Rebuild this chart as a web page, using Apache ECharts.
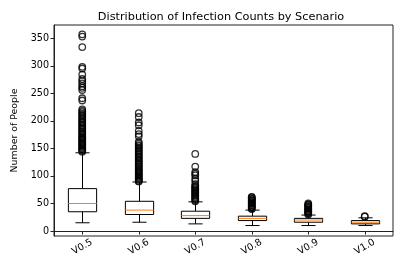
<!DOCTYPE html>
<html>
<head>
<meta charset="utf-8">
<script src="https://cdn.jsdelivr.net/npm/echarts@6/dist/echarts.min.js"></script>
<style>html,body{margin:0;padding:0;background:#fff;}#c{width:407px;height:271px;}</style>
</head>
<body>
<div id="c"></div>
<script>
const categories = ['V0.5', 'V0.6', 'V0.7', 'V0.8', 'V0.9', 'V1.0'];
const whiskerLow = [15, 16, 13, 10, 10, 10];
const q1 = [35, 30, 23, 19, 16, 13];
const median = [50, 38, 28, 23, 20, 16];
const q3 = [77, 54, 36, 27, 23, 19];
const whiskerHigh = [142, 89, 53, 38, 29, 24];
const outliers05 = [357, 353, 334, 298, 295, 284, 276, 272, 268, 263, 260, 256, 241, 237, 221, 218, 216, 213, 211, 208, 205, 203, 200, 198, 196, 193, 191, 188, 186, 184, 181, 179, 177, 175, 172, 170, 168, 166, 164, 162, 160, 158, 156, 154, 152, 150, 148, 146, 144];
const outliers06 = [214, 207, 197, 192, 182, 176, 172, 162, 159, 156, 154, 151, 149, 146, 144, 141, 139, 136, 134, 132, 129, 127, 125, 122, 120, 118, 116, 113, 111, 109, 107, 105, 103, 101, 99, 97, 95, 93, 91, 90];
const outliers07 = [140, 117, 107, 104, 101, 95, 91, 85, 82, 80, 78, 76, 74, 72, 70, 68, 66, 64, 62, 60, 58, 56, 54];
const outliers08 = [62, 61, 59, 58, 56, 55, 53, 52, 50, 49, 47, 46, 44, 43, 41, 40];
const outliers09 = [50, 48, 47, 45, 44, 42, 41, 39, 38, 36, 35, 33, 32, 30];
const outliers10 = [27, 26];
const yTicks = [0, 50, 100, 150, 200, 250, 300, 350];

const allOutliers = [outliers05, outliers06, outliers07, outliers08, outliers09, outliers10];
const flierData = [];
allOutliers.forEach((arr, i) => arr.forEach(v => flierData.push([i, v])));
const boxData = categories.map((c, i) => [i, whiskerLow[i], q1[i], median[i], q3[i], whiskerHigh[i]]);

const FONT = 'DejaVu Sans';
const chart = echarts.init(document.getElementById('c'), null, {renderer: 'canvas'});
chart.setOption({
  animation: false,
  backgroundColor: '#fff',
  title: {
    text: 'Distribution of Infection Counts by Scenario',
    left: 216, top: 7, textAlign: 'center',
    textStyle: {fontFamily: FONT, fontSize: 11.3, fontWeight: 'normal', color: '#000'}
  },
  grid: {left: 54, right: 14, top: 25, bottom: 35, show: true, borderColor: '#222', borderWidth: 1, backgroundColor: 'transparent'},
  xAxis: {
    type: 'category', data: categories, boundaryGap: true,
    axisLine: {show: true, lineStyle: {color: '#222', width: 1}},
    axisTick: {show: true, alignWithLabel: true, length: 3.5, lineStyle: {color: '#222'}},
    axisLabel: {rotate: 30, align: 'center', verticalAlign: 'middle', margin: 11, fontFamily: FONT, fontSize: 9.6, color: '#000'},
    splitLine: {show: false}
  },
  yAxis: {
    type: 'value', min: -9, max: 374, splitNumber: 8,
    name: 'Number of People', nameLocation: 'middle', nameGap: 35,
    nameTextStyle: {fontFamily: FONT, fontSize: 9.4, color: '#000'},
    axisLine: {show: true, lineStyle: {color: '#222', width: 1}},
    axisTick: {show: true, length: 3.5, lineStyle: {color: '#222'}},
    axisLabel: {showMinLabel: false, showMaxLabel: false, margin: 5, fontFamily: FONT, fontSize: 9.6, color: '#000',
      formatter: v => (yTicks.indexOf(v) >= 0 ? String(v) : '')},
    splitLine: {show: false}
  },
  series: [
    {
      type: 'custom',
      data: boxData,
      encode: {x: 0, y: [1, 2, 3, 4, 5]},
      z: 3,
      renderItem: function (params, api) {
        const x = api.value(0);
        const band = api.size([1, 0])[0];
        const hw = band * 0.25, cw = band * 0.125;
        const pLo = api.coord([x, api.value(1)]);
        const pQ1 = api.coord([x, api.value(2)]);
        const pMed = api.coord([x, api.value(3)]);
        const pQ3 = api.coord([x, api.value(4)]);
        const pHi = api.coord([x, api.value(5)]);
        const cx = Math.round(pLo[0]) + 0.5;
        const st = {stroke: '#000', lineWidth: 1, fill: null};
        return {
          type: 'group',
          children: [
            {type: 'line', shape: {x1: cx, y1: pQ1[1], x2: cx, y2: pLo[1]}, style: st},
            {type: 'line', shape: {x1: cx, y1: pQ3[1], x2: cx, y2: pHi[1]}, style: st},
            {type: 'line', shape: {x1: cx - cw, y1: pLo[1], x2: cx + cw, y2: pLo[1]}, style: st},
            {type: 'line', shape: {x1: cx - cw, y1: pHi[1], x2: cx + cw, y2: pHi[1]}, style: st},
            {type: 'rect', shape: {x: cx - hw, y: pQ3[1], width: 2 * hw, height: pQ1[1] - pQ3[1]}, style: {stroke: '#000', lineWidth: 1, fill: '#fff'}},
            {type: 'line', shape: {x1: cx - hw, y1: pMed[1], x2: cx + hw, y2: pMed[1]}, style: {stroke: '#ff7f0e', lineWidth: 1}}
          ]
        };
      }
    },
    {
      type: 'scatter',
      data: flierData,
      symbol: 'circle',
      symbolSize: 6.5,
      z: 2,
      itemStyle: {color: 'rgba(255,255,255,0)', borderColor: '#000', borderWidth: 1.3}
    }
  ]
});
</script>
</body>
</html>
